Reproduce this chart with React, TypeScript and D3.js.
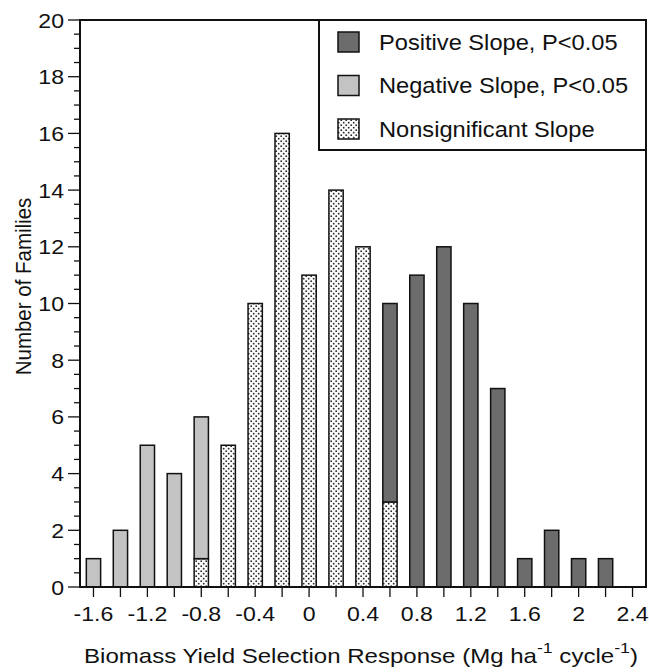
import React, { useEffect, useRef } from "react";
import * as d3 from "d3";

// bin centres (Mg ha-1 cycle-1)
const bins = [-1.6, -1.4, -1.2, -1.0, -0.8, -0.6, -0.4, -0.2, 0, 0.2, 0.4, 0.6, 0.8, 1.0, 1.2, 1.4, 1.6, 1.8, 2.0, 2.2];
// counts per bin, stacked bottom -> top: nonsignificant, negative, positive
const nonsig = [0, 0, 0, 0, 1, 5, 10, 16, 11, 14, 12, 3, 0, 0, 0, 0, 0, 0, 0, 0];
const negative = [1, 2, 5, 4, 5, 0, 0, 0, 0, 0, 0, 0, 0, 0, 0, 0, 0, 0, 0, 0];
const positive = [0, 0, 0, 0, 0, 0, 0, 0, 0, 0, 0, 7, 11, 12, 10, 7, 1, 2, 1, 1];

const xTicks = [-1.6, -1.2, -0.8, -0.4, 0, 0.4, 0.8, 1.2, 1.6, 2, 2.4];
const yTicks = [0, 2, 4, 6, 8, 10, 12, 14, 16, 18, 20];

const legendItems = [
  { key: "pos", label: "Positive Slope, P<0.05" },
  { key: "neg", label: "Negative Slope, P<0.05" },
  { key: "ns", label: "Nonsignificant Slope" },
];

const W = 649;
const H = 672;
const FONT = "'Liberation Sans', Arial, Helvetica, sans-serif";
const SX = 1.1; // the original type is a bit wide

export default function App() {
  const svgRef = useRef<SVGSVGElement | null>(null);

  useEffect(() => {
    const svg = d3.select(svgRef.current);
    svg.selectAll("*").remove();

    const left = 80, right = 646, top = 20, bottom = 587;
    const x = d3.scaleLinear().domain([-1.7, 2.5]).range([left, right]);
    const y = d3.scaleLinear().domain([0, 20]).range([bottom, top]);

    const fill: Record<string, string> = { pos: "#6c6c6c", neg: "#c3c3c3", ns: "url(#dots)" };

    // --- dot pattern ---
    const pat = svg.append("defs").append("pattern")
      .attr("id", "dots")
      .attr("patternUnits", "userSpaceOnUse")
      .attr("width", 5)
      .attr("height", 5);
    pat.append("rect").attr("width", 5).attr("height", 5).attr("fill", "#fbfbfb");
    pat.append("circle").attr("cx", 1.2).attr("cy", 1.2).attr("r", 0.9).attr("fill", "#2a2a2a");
    pat.append("circle").attr("cx", 3.7).attr("cy", 3.7).attr("r", 0.9).attr("fill", "#2a2a2a");

    // --- bars ---
    const rows = bins.map((b, i) => ({ b, ns: nonsig[i], neg: negative[i], pos: positive[i] }));
    const stack = d3.stack<any>().keys(["ns", "neg", "pos"])(rows);
    const bw = x(0.106) - x(0);

    const g = svg.append("g");
    stack.forEach(layer => {
      g.selectAll(null)
        .data(layer.filter(d => d[1] > d[0]))
        .join("rect")
        .attr("x", d => x(d.data.b) - bw / 2)
        .attr("y", d => y(d[1]))
        .attr("width", bw)
        .attr("height", d => y(d[0]) - y(d[1]))
        .attr("fill", fill[layer.key])
        .attr("stroke", "#111")
        .attr("stroke-width", 1.5);
    });

    // --- axes ---
    const ax = svg.append("g").attr("stroke", "#111").attr("stroke-width", 1.3);
    ax.selectAll(null)
      .data(d3.range(0, 20.01, 0.5))
      .join("line")
      .attr("x1", d => (d % 2 === 0 ? left - 12 : left - 6))
      .attr("x2", left)
      .attr("y1", d => y(d))
      .attr("y2", d => y(d));
    ax.selectAll(null)
      .data(bins.concat([2.4]))
      .join("line")
      .attr("x1", d => x(d))
      .attr("x2", d => x(d))
      .attr("y1", bottom)
      .attr("y2", bottom + 10);

    svg.append("rect")
      .attr("x", left)
      .attr("y", top)
      .attr("width", right - left)
      .attr("height", bottom - top)
      .attr("fill", "none")
      .attr("stroke", "#111")
      .attr("stroke-width", 2);

    svg.selectAll(null)
      .data(yTicks)
      .join("text")
      .attr("transform", d => `translate(64,${y(d) + 7.5}) scale(${SX},1)`)
      .attr("text-anchor", "end")
      .attr("font-family", FONT)
      .attr("font-size", 21)
      .attr("fill", "#111")
      .text(d => String(d));

    svg.selectAll(null)
      .data(xTicks)
      .join("text")
      .attr("transform", d => `translate(${x(d)},621) scale(${SX},1)`)
      .attr("text-anchor", "middle")
      .attr("font-family", FONT)
      .attr("font-size", 21)
      .attr("fill", "#111")
      .text(d => String(d));

    // --- axis titles ---
    svg.append("text")
      .attr("transform", `translate(31,${(top + bottom) / 2 - 17}) scale(${SX},1) rotate(-90)`)
      .attr("text-anchor", "middle")
      .attr("font-family", FONT)
      .attr("font-size", 20.5)
      .attr("fill", "#111")
      .text("Number of Families");

    const xt = svg.append("text")
      .attr("transform", `translate(${(left + right) / 2 - 2},663) scale(1.145,1)`)
      .attr("text-anchor", "middle")
      .attr("font-family", FONT)
      .attr("font-size", 21)
      .attr("fill", "#111");
    xt.append("tspan").text("Biomass Yield Selection Response (Mg ha");
    xt.append("tspan").attr("dy", -10).attr("font-size", 15.5).text("-1");
    xt.append("tspan").attr("dy", 10).text(" cycle");
    xt.append("tspan").attr("dy", -10).attr("font-size", 15.5).text("-1");
    xt.append("tspan").attr("dy", 10).text(")");

    // --- legend ---
    const lg = svg.append("g");
    lg.append("rect")
      .attr("x", 319)
      .attr("y", top)
      .attr("width", right - 319)
      .attr("height", 130)
      .attr("fill", "#fff")
      .attr("stroke", "#111")
      .attr("stroke-width", 2);
    const li = lg.selectAll(null)
      .data(legendItems)
      .join("g")
      .attr("transform", (d, i) => `translate(0,${42 + i * 43.5})`);
    li.append("rect")
      .attr("x", 338)
      .attr("y", -10)
      .attr("width", 21)
      .attr("height", 20)
      .attr("fill", d => fill[d.key])
      .attr("stroke", "#111")
      .attr("stroke-width", 1.5);
    li.append("text")
      .attr("transform", `translate(379,7.5) scale(${SX},1)`)
      .attr("font-family", FONT)
      .attr("font-size", 21.5)
      .attr("fill", "#111")
      .text(d => d.label);
  }, []);

  return (
    <svg
      ref={svgRef}
      width={W}
      height={H}
      style={{ position: "absolute", left: 0, top: 0, background: "#fff" }}
    />
  );
}
